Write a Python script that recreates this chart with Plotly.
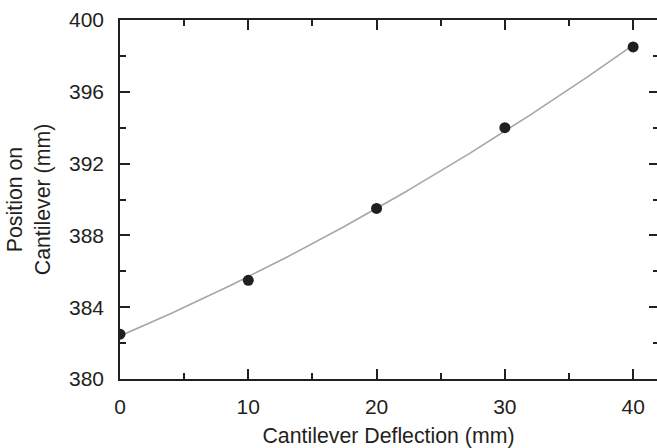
import numpy as np
import plotly.graph_objects as go

deflection = [0, 10, 20, 30, 40]
position = [382.5, 385.5, 389.5, 394.0, 398.5]

x_ticks = [0, 10, 20, 30, 40]
y_ticks = [380, 384, 388, 392, 396, 400]

# quadratic trend line fitted to the data
coef = np.polyfit(deflection, position, 2)
xf = np.linspace(min(deflection), max(deflection), 200)
yf = np.polyval(coef, xf)

INK = "#231f20"
FONT = "Liberation Sans, Arial, sans-serif"

fig = go.Figure()
fig.add_trace(go.Scatter(x=xf, y=yf, mode="lines",
                         line=dict(color="#a6a6a6", width=1.6),
                         hoverinfo="skip", showlegend=False))
fig.add_trace(go.Scatter(x=deflection, y=position, mode="markers",
                         marker=dict(color=INK, size=11),
                         showlegend=False))
# invisible trace to carry the right-hand tick axis
fig.add_trace(go.Scatter(x=[deflection[0]], y=[position[0]], yaxis="y2",
                         mode="markers", marker=dict(opacity=0),
                         hoverinfo="skip", showlegend=False))

axis_common = dict(showgrid=False, zeroline=False, ticks="inside",
                   tickcolor=INK, tickwidth=1.5, ticklen=10,
                   tickfont=dict(family=FONT, size=21, color=INK))

fig.update_layout(
    width=657, height=448,
    margin=dict(l=120, r=0, t=20, b=69),
    paper_bgcolor="white", plot_bgcolor="white",
    font=dict(family=FONT, size=21, color=INK),
    xaxis=dict(range=[0, 41.86], tickvals=x_ticks,
               showline=True, linecolor=INK, linewidth=1.5, mirror="ticks",
               ticklabelstandoff=8,
               minor=dict(dtick=5, ticks="inside", ticklen=6,
                          tickcolor=INK, tickwidth=1.5),
               title=dict(text="Cantilever Deflection (mm)",
                          font=dict(family=FONT, size=21.3, color=INK),
                          standoff=13),
               **axis_common),
    yaxis=dict(range=[380, 400], tickvals=y_ticks,
               showline=True, linecolor=INK, linewidth=1.5,
               ticklabelstandoff=10,
               minor=dict(dtick=2, ticks="inside", ticklen=6,
                          tickcolor=INK, tickwidth=1.5),
               title=dict(text="Position on<br>Cantilever (mm)",
                          font=dict(family=FONT, size=21.3, color=INK),
                          standoff=13),
               **axis_common),
    yaxis2=dict(range=[380, 400], overlaying="y", side="right",
                tickvals=y_ticks, showticklabels=False, showline=False,
                showgrid=False, zeroline=False, ticks="inside",
                tickcolor=INK, tickwidth=1.5, ticklen=8,
                minor=dict(dtick=2, ticks="inside", ticklen=4,
                           tickcolor=INK, tickwidth=1.5)),
)

fig.write_html("out.html")
